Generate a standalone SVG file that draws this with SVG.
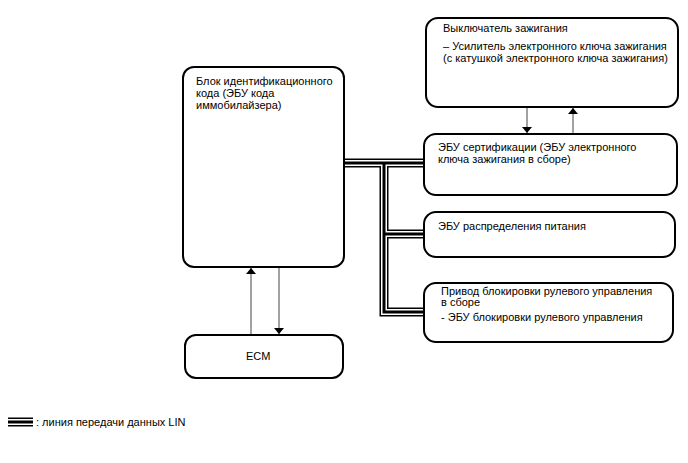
<svg xmlns="http://www.w3.org/2000/svg" width="688" height="463" viewBox="0 0 688 463">
<style>
.box{fill:#fff;stroke:#000;stroke-width:2}
.t{font-family:"Liberation Sans",Arial,sans-serif;font-size:11px;fill:#000}
.arr{stroke:#444;stroke-width:1;fill:none}
.b1{stroke:#000;stroke-width:9;fill:none;stroke-linejoin:miter}
.b2{stroke:#fff;stroke-width:6;fill:none;stroke-linejoin:miter}
.b3{stroke:#000;stroke-width:3;fill:none;stroke-linejoin:miter}
</style>
<defs>
<marker id="ah" viewBox="0 0 6 10" refX="6" refY="5" markerWidth="6" markerHeight="10" markerUnits="userSpaceOnUse" orient="auto">
<path d="M0,0 L6,5 L0,10 Z" fill="#000"/>
</marker>
</defs>
<g id="connectors">
<g id="lin-bus">
<path class="b1" d="M344,163 H424 M384,163 V312 H424 M384,234 H424"/>
<path class="b2" d="M344,163 H424 M384,163 V312 H424 M384,234 H424"/>
<path class="b3" d="M344,163 H424 M384,163 V312 H424 M384,234 H424"/>
</g>
<line class="arr" x1="251" y1="335" x2="251" y2="268" marker-end="url(#ah)"/>
<line class="arr" x1="279" y1="268" x2="279" y2="334" marker-end="url(#ah)"/>
<line class="arr" x1="527" y1="108" x2="527" y2="133" marker-end="url(#ah)"/>
<line class="arr" x1="573" y1="134" x2="573" y2="108" marker-end="url(#ah)"/>
</g>
<g id="immo">
<rect class="box" x="183" y="67" width="161" height="200" rx="11"/>
<text class="t" x="196" y="85">Блок идентификационного</text>
<text class="t" x="196" y="97">кода (ЭБУ кода</text>
<text class="t" x="196" y="109">иммобилайзера)</text>
</g>
<g id="ecm">
<rect class="box" x="185" y="335" width="158" height="43" rx="11"/>
<text class="t" x="246" y="360">ECM</text>
</g>
<g id="ignition">
<rect class="box" x="426" y="18" width="252" height="89" rx="12"/>
<text class="t" x="443" y="32">Выключатель зажигания</text>
<text class="t" x="443" y="50">– Усилитель электронного ключа зажигания</text>
<text class="t" x="443" y="62">(с катушкой электронного ключа зажигания)</text>
</g>
<g id="cert">
<rect class="box" x="424" y="134" width="253" height="61" rx="12"/>
<text class="t" x="438" y="151">ЭБУ сертификации (ЭБУ электронного</text>
<text class="t" x="438" y="163">ключа зажигания в сборе)</text>
</g>
<g id="power">
<rect class="box" x="424" y="212" width="251" height="45" rx="12"/>
<text class="t" x="438" y="230">ЭБУ распределения питания</text>
</g>
<g id="steering">
<rect class="box" x="424" y="283" width="249" height="59" rx="12"/>
<text class="t" x="441" y="295">Привод блокировки рулевого управления</text>
<text class="t" x="441" y="306">в сборе</text>
<text class="t" x="441" y="321">- ЭБУ блокировки рулевого управления</text>
</g>
<g id="legend">
<path class="b1" d="M8,422 H33"/>
<path class="b2" d="M8,422 H33"/>
<path class="b3" d="M8,422 H33"/>
<text class="t" x="36" y="426">: линия передачи данных LIN</text>
</g>
</svg>
